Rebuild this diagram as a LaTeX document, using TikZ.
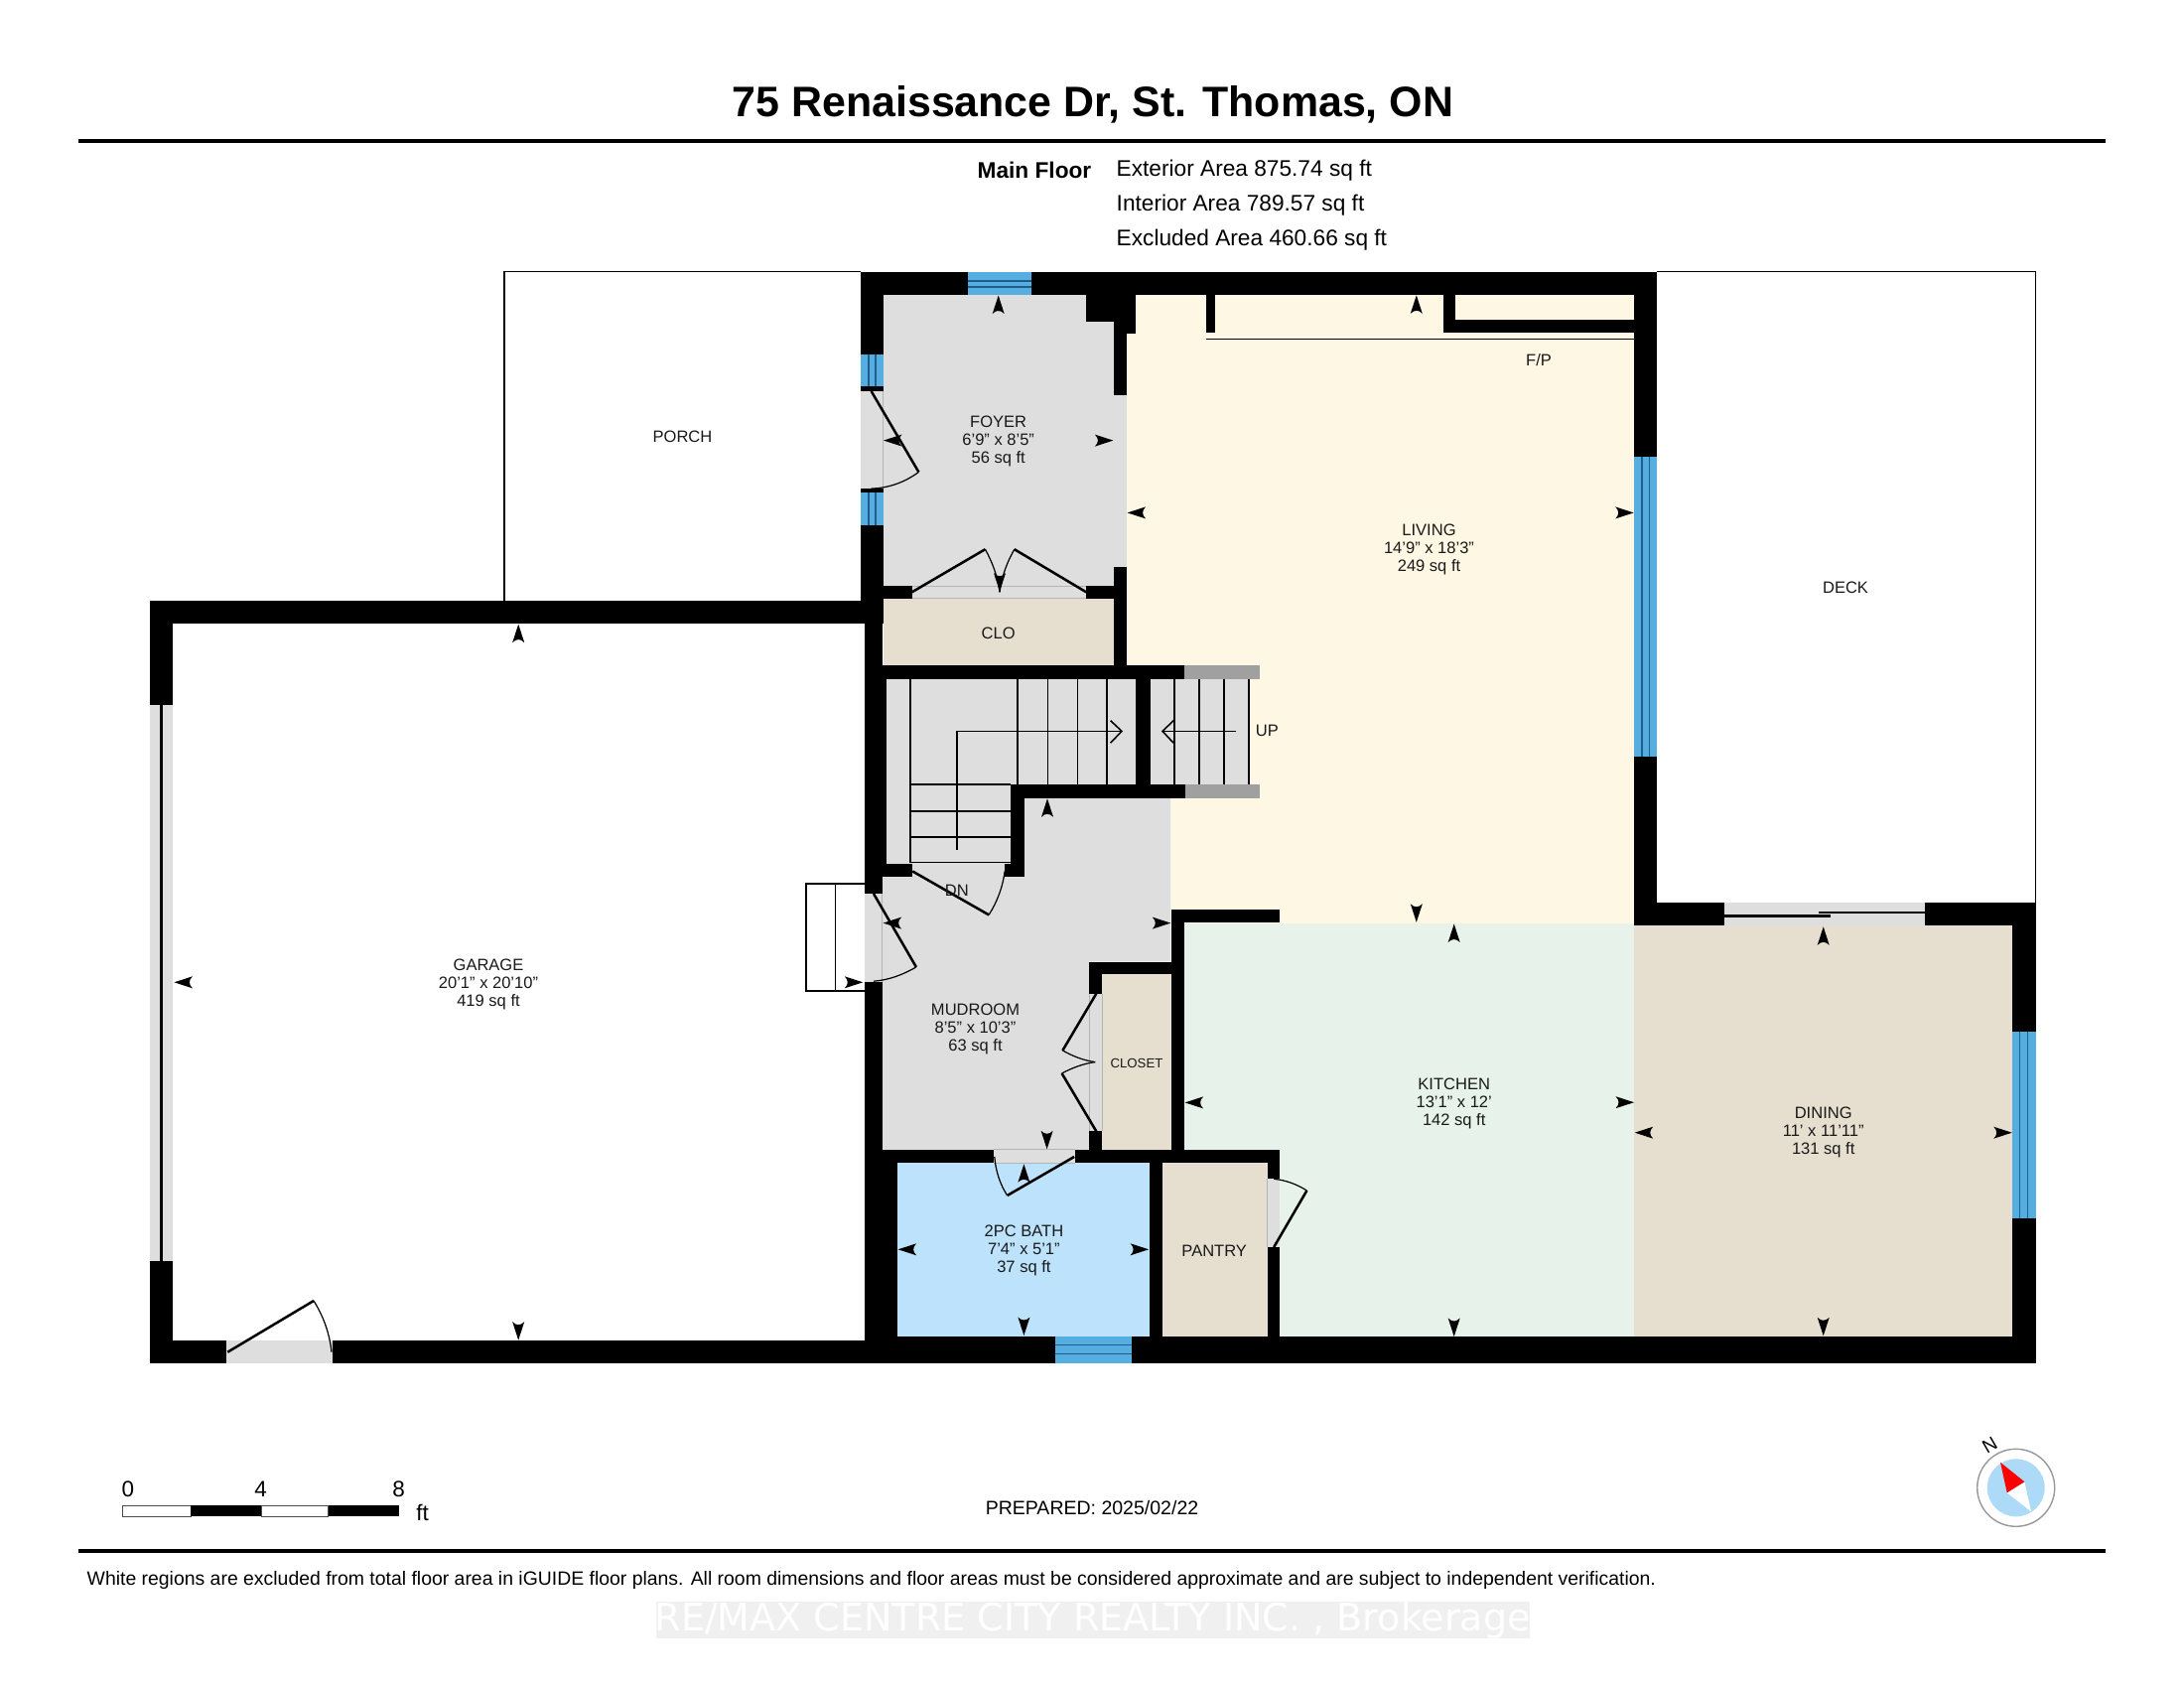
\documentclass[tikz,border=0pt]{standalone}
\usepackage{fontspec}
\setmainfont{Liberation Sans}
\newfontfamily\wmfont{DejaVu Sans}
\definecolor{cFoyer}{HTML}{DEDEDE}
\definecolor{cLiving}{HTML}{FDF7E3}
\definecolor{cKitchen}{HTML}{E6F2EA}
\definecolor{cBeige}{HTML}{E6DECE}
\definecolor{cBath}{HTML}{BDE2FB}
\definecolor{cWin}{HTML}{55ADE0}
\definecolor{cWinLine}{HTML}{1C5F8C}
\definecolor{cCap}{HTML}{A0A0A0}
\definecolor{cOpenLine}{HTML}{B4B4B4}
\tikzset{
  wall/.style={fill=black},
  openfill/.style={fill=cFoyer},
  winfill/.style={fill=cWin},
  winline/.style={draw=cWinLine,line width=0.4pt},
  leaf/.style={draw=black,line width=0.72pt},
  swing/.style={draw=black,line width=0.35pt},
  stairline/.style={draw=black,line width=0.45pt},
  outline/.style={draw=black,line width=0.42pt},
  room/.style={font=\fontsize{4.7}{5.12}\selectfont,align=center,inner sep=0pt,text=black!90,yshift=-0.45pt},
  label/.style={font=\fontsize{4.7}{5.12}\selectfont,inner sep=0pt,text=black!90,yshift=-0.35pt},
  info/.style={font=\fontsize{6.45}{7}\selectfont,inner sep=0pt,yshift=-0.4pt},
}
\newcommand\arrL[2]{\fill[shift={(#1,#2)}] (0,0) .. controls (9,-2.2) .. (18.5,-6) .. controls (14.5,-2) and (14.5,2) .. (18.5,6) .. controls (9,2.2) .. cycle;}
\newcommand\arrR[2]{\fill[shift={(#1,#2)}] (0,0) .. controls (-9,-2.2) .. (-18.5,-6) .. controls (-14.5,-2) and (-14.5,2) .. (-18.5,6) .. controls (-9,2.2) .. cycle;}
\newcommand\arrU[2]{\fill[shift={(#1,#2)}] (0,0) .. controls (-2.2,9) .. (-6,18.5) .. controls (-2,14.5) and (2,14.5) .. (6,18.5) .. controls (2.2,9) .. cycle;}
\newcommand\arrD[2]{\fill[shift={(#1,#2)}] (0,0) .. controls (-2.2,-9) .. (-6,-18.5) .. controls (-2,-14.5) and (2,-14.5) .. (6,-18.5) .. controls (2.2,-9) .. cycle;}
\begin{document}
\begin{tikzpicture}[x=0.01cm,y=-0.01cm]
\useasboundingbox (0,0) rectangle (2200,1700);
\fill[white] (0,0) rectangle (2200,1700);

% header
\node[font=\bfseries\fontsize{12.2}{14}\selectfont,inner sep=0pt] (title) at (1101,105.5) {75 Renaissance Dr, St. Thomas, ON};
\fill[black] (78.6,139.7) rectangle (2121,143.7);
\node[info,font=\bfseries\fontsize{6.45}{7}\selectfont,anchor=east] (mainfloor) at (1100,170) {Main Floor};
\node[info,anchor=west] (ext) at (1124,170) {Exterior Area 875.74 sq ft};
\node[info,anchor=west] (int) at (1124,205) {Interior Area 789.57 sq ft};
\node[info,anchor=west] (exc) at (1124,240.5) {Excluded Area 460.66 sq ft};

% outlines of exterior areas
\draw[outline] (508,605.4) -- (508,273.6) -- (867,273.6);
\draw[outline] (1669,273.6) -- (2050.7,273.6) -- (2050.7,909.3);
\draw[outline] (871,890) -- (812.1,890) -- (812.1,997.9) -- (871,997.9);
\draw[outline] (841.4,890) -- (841.4,997.9);

% room fills
\fill[cLiving] (1143.5,297) -- (1646.4,297) -- (1646.4,930) -- (1180,930) -- (1180,800) -- (1134.7,800) -- (1134.7,336) -- (1143.5,336) -- cycle;
\fill[cKitchen] (1192.9,930) rectangle (1646.4,1346);
\fill[cBeige] (1646.4,932.3) rectangle (2027.3,1346);
\fill[cFoyer] (889.6,297) rectangle (1121.9,590);
\fill[cBeige] (889.6,602.9) rectangle (1121.9,670.4);
\fill[cFoyer] (888.9,882.9) -- (1031.8,882.9) -- (1031.8,803.6) -- (1179.3,803.6) -- (1179.3,968.6) -- (1097.1,968.6) -- (1097.1,1157.9) -- (888.9,1157.9) -- cycle;
\fill[cBeige] (1110.4,981.4) rectangle (1180,1157.9);
\fill[cBath] (903.9,1171) rectangle (1158.2,1346);
\fill[cBeige] (1171.1,1171) rectangle (1276.8,1346);
% stair fills
\fill[cFoyer] (892.5,683.6) -- (1144.3,683.6) -- (1144.3,790) -- (1017.9,790) -- (1017.9,870.4) -- (892.5,870.4) -- cycle;
\fill[cFoyer] (1158.6,683.6) rectangle (1257.9,790);
\fill[cCap] (1192.5,670.4) rectangle (1268.6,683.6);
\fill[cCap] (1193.6,790) rectangle (1268.6,803.6);

% walls
\fill[wall] (867,274) rectangle (1668.9,297);
\fill[wall] (867,274) rectangle (889.6,628);
\fill[wall] (151,605.4) rectangle (889.6,627.9);
\fill[wall] (871.2,605.4) rectangle (888.9,1373.3);
\fill[wall] (871.2,670) rectangle (892.5,882.9);
\fill[wall] (871.2,1158) rectangle (903.9,1373.3);
\fill[wall] (151,1350.3) rectangle (903.9,1373.3);
\fill[wall] (871,1346) rectangle (2050.7,1373.3);
\fill[wall] (151,605.4) rectangle (174,1373.3);
\fill[wall] (1093.9,297) rectangle (1143.5,324.3);
\fill[wall] (1121.9,297) rectangle (1143.5,336);
\fill[wall] (1121.9,297) rectangle (1134.7,670);
\fill[wall] (889.6,590) rectangle (918.5,602.9);
\fill[wall] (1094.3,590) rectangle (1121.9,602.9);
\fill[wall] (871.2,670.4) rectangle (1192.5,683.6);
\fill[wall] (1144.3,683.6) rectangle (1158.6,790);
\fill[wall] (1017.9,790) rectangle (1193.6,803.6);
\fill[wall] (1017.9,790) rectangle (1031.8,882.9);
\fill[wall] (888,870.4) rectangle (919.3,882.9);
\fill[wall] (1012.1,870.4) rectangle (1031.8,882.9);
\fill[wall] (1180,916) rectangle (1289.3,928.6);
\fill[wall] (1180,916) rectangle (1192.9,1171);
\fill[wall] (1097.1,968.6) rectangle (1192.9,981.4);
\fill[wall] (1097.1,968.6) rectangle (1110.4,1000.7);
\fill[wall] (1097.1,1139.3) rectangle (1110.4,1157.9);
\fill[wall] (871,1157.9) rectangle (1001.4,1171);
\fill[wall] (1082.5,1157.9) rectangle (1289.3,1171);
\fill[wall] (1158.2,1158) rectangle (1171.1,1346);
\fill[wall] (1276.8,1158) rectangle (1289.3,1187.3);
\fill[wall] (1276.8,1256) rectangle (1289.3,1346);
\fill[wall] (1646.4,274) rectangle (1668.9,932.3);
\fill[wall] (1646.4,909.3) rectangle (2050.7,932.3);
\fill[wall] (2027.3,909.3) rectangle (2050.7,1373.3);
% fireplace
\fill[wall] (1215.4,297) rectangle (1223.9,335);
\fill[wall] (1453.6,297) rectangle (1466.4,335);
\fill[wall] (1453.6,322.3) rectangle (1646.4,335);
\draw[draw=black,line width=0.45pt] (1215.4,341.7) -- (1646.4,341.7);

% openings
\fill[openfill] (867,393.9) rectangle (889.6,492);
\draw[cOpenLine,line width=0.25pt] (889.6,393.9) -- (889.6,492);
\fill[openfill] (1121.9,397.9) rectangle (1134.7,570.7);
\fill[openfill] (918.5,590) rectangle (1094.3,602.9);
\draw[cOpenLine,line width=0.25pt] (918.5,590) -- (1094.3,590) (918.5,602.9) -- (1094.3,602.9);
\fill[openfill] (871.2,900) rectangle (888.9,989.3);
\draw[cOpenLine,line width=0.25pt] (888.9,900) -- (888.9,989.3);
\fill[openfill] (919.3,870.4) rectangle (1012.1,882.9);
\fill[openfill] (1097.1,1000.7) rectangle (1110.4,1139.3);
\draw[cOpenLine,line width=0.25pt] (1097.1,1000.7) -- (1097.1,1139.3) (1110.4,1000.7) -- (1110.4,1139.3);
\fill[openfill] (1001.4,1157.9) rectangle (1082.5,1171);
\draw[cOpenLine,line width=0.25pt] (1001.4,1157.9) -- (1082.5,1157.9) (1001.4,1171) -- (1082.5,1171);
\fill[openfill] (1276.8,1187.3) rectangle (1289.3,1256);
\draw[cOpenLine,line width=0.25pt] (1276.8,1187.3) -- (1276.8,1256);
\fill[openfill] (228.3,1350.3) rectangle (335,1373.3);
\fill[openfill] (151,710) rectangle (174,1269.7);
\fill[black] (160.5,710) rectangle (164.2,1269.7);
% sliding door
\fill[openfill] (1736.7,909.3) rectangle (1939,932.3);
\draw[draw=black,line width=0.7pt] (1736.7,922.3) -- (1844,922.3);
\draw[draw=black,line width=0.7pt] (1832,919) -- (1939,919);

% windows
\fill[winfill] (975.4,274) rectangle (1038.8,297);
\draw[winline] (975.4,282.9) -- (1038.8,282.9) (975.4,288.9) -- (1038.8,288.9);
\fill[winfill] (867,357.1) rectangle (889.6,389.3);
\draw[winline] (875,357.1) -- (875,389.3) (882,357.1) -- (882,389.3);
\fill[winfill] (867,496.4) rectangle (889.6,528.6);
\draw[winline] (875,496.4) -- (875,528.6) (882,496.4) -- (882,528.6);
\fill[winfill] (1646.4,460.2) rectangle (1668.9,761.8);
\draw[winline] (1653.9,460.2) -- (1653.9,761.8) (1661.4,460.2) -- (1661.4,761.8);
\fill[winfill] (2027.3,1039.3) rectangle (2050.7,1227.3);
\draw[winline] (2034.7,1039.3) -- (2034.7,1227.3) (2042.3,1039.3) -- (2042.3,1227.3);
\fill[winfill] (1062.5,1346) rectangle (1140.4,1373.3);
\draw[winline] (1062.5,1354.7) -- (1140.4,1354.7) (1062.5,1363.7) -- (1140.4,1363.7);

% stairs
\draw[stairline] (917.1,683.6) -- (917.1,868.6);
\draw[stairline] (1025,683.6) -- (1025,790) (1055.4,683.6) -- (1055.4,790) (1085.4,683.6) -- (1085.4,790) (1115,683.6) -- (1115,790);
\draw[stairline] (917.1,790) -- (1017.9,790) (917.1,816.8) -- (1017.9,816.8) (917.1,843.2) -- (1017.9,843.2) (917.1,868.6) -- (1017.9,868.6);
\draw[stairline] (963.9,856) -- (963.9,736.4) -- (1130,736.4);
\draw[stairline] (1118.6,725.7) -- (1130,736.4) -- (1118.6,748.2);
\draw[stairline] (1183.2,683.6) -- (1183.2,790) (1207.9,683.6) -- (1207.9,790) (1232.9,683.6) -- (1232.9,790) (1257.9,683.6) -- (1257.9,790);
\draw[stairline] (1245.4,736.4) -- (1171,736.4);
\draw[stairline] (1182.1,725.7) -- (1171,736.4) -- (1182.1,748.2);

% doors
\draw[leaf] (877.6,393.9) -- (925.4,475.4);
\draw[swing] (925.4,475.4) .. controls (911,486) and (895,491.5) .. (877.6,492.1);
\draw[leaf] (918.5,596.4) -- (992.4,553.2);
\draw[swing] (992.4,553.2) .. controls (999,565) and (1005,580) .. (1007,596.4);
\draw[leaf] (1094.3,596.4) -- (1021.8,553.2);
\draw[swing] (1021.8,553.2) .. controls (1015,565) and (1009,580) .. (1007,596.4);
\draw[leaf] (880,900) -- (922.9,973.9);
\draw[swing] (922.9,973.9) .. controls (909,982) and (895,987) .. (880,988.2);
\draw[leaf] (919.3,877.5) -- (996.1,921.4);
\draw[swing] (996.1,921.4) .. controls (1004,909) and (1010,894) .. (1012.1,877.5);
\draw[leaf] (1104.3,1000.7) -- (1070.4,1057.9);
\draw[swing] (1070.4,1057.9) .. controls (1081,1064) and (1092,1068) .. (1103.2,1069.6);
\draw[leaf] (1104.3,1139.3) -- (1069.6,1081);
\draw[swing] (1069.6,1081) .. controls (1081,1075) and (1092,1071) .. (1103.2,1069.6);
\draw[leaf] (1082.1,1165) -- (1014.6,1204);
\draw[swing] (1014.6,1204) .. controls (1007,1192) and (1003,1179) .. (1001.8,1165);
\draw[leaf] (1283.2,1256) -- (1316.4,1199);
\draw[swing] (1316.4,1199) .. controls (1306,1192.5) and (1295,1188.5) .. (1283.2,1187.3);
\draw[leaf] (229.3,1361.7) -- (316,1310);
\draw[swing] (316,1310) .. controls (326,1326) and (332,1343) .. (334,1361.7);

% measure arrows
\arrU{1005.7}{297.5} \arrL{890}{443.6} \arrR{1121.4}{443.6} \arrD{1007}{595.7}
\arrL{1135.6}{516.4} \arrR{1645.7}{516.4} \arrU{1426.8}{297.3} \arrD{1426.8}{928.8}
\arrU{522.2}{628.6} \arrD{522.2}{1349.7} \arrL{175.4}{989.3} \arrR{869.3}{989.3}
\arrU{1055}{804.3} \arrD{1054.6}{1157.3} \arrL{889.6}{929.6} \arrR{1179.3}{929.6}
\arrU{1031.4}{1172.3} \arrD{1031.4}{1345} \arrL{904.6}{1258.3} \arrR{1157.1}{1258.3}
\arrU{1464.7}{930.5} \arrD{1464.7}{1346} \arrL{1193.6}{1110.4} \arrR{1646}{1110.2}
\arrU{1836.7}{933.3} \arrD{1836.7}{1345.3} \arrL{1646.7}{1140.7} \arrR{2026.7}{1140.7}

% labels
\node[label] (porch) at (687.5,439) {PORCH};
\node[label] (deck) at (1859,590.7) {DECK};
\node[label] (clo) at (1005.7,636.4) {CLO};
\node[label] (fp) at (1550,361.7) {F/P};
\node[label] (up) at (1276.4,734.6) {UP};
\node[label] (dn) at (963.9,895.7) {DN};
\node[label,font=\fontsize{3.75}{5}\selectfont] (closet) at (1145,1069.6) {CLOSET};
\node[label] (pantry) at (1223.2,1258.3) {PANTRY};
\node[room] (foyer) at (1005.7,443.2) {FOYER\\6'9" x 8'5"\\56 sq ft};
\node[room] (living) at (1439.5,551.4) {LIVING\\14'9" x 18'3"\\249 sq ft};
\node[room] (garage) at (492,990) {GARAGE\\20'1" x 20'10"\\419 sq ft};
\node[room] (mud) at (982.5,1034.6) {MUDROOM\\8'5" x 10'3"\\63 sq ft};
\node[room] (bath) at (1031.4,1258.3) {2PC BATH\\7'4" x 5'1"\\37 sq ft};
\node[room] (kitchen) at (1464.7,1110) {KITCHEN\\13'1" x 12'\\142 sq ft};
\node[room] (dining) at (1836.7,1138.7) {DINING\\11' x 11'11"\\131 sq ft};

% scale bar
\draw[draw=black!70,fill=white,line width=0.25pt] (123.5,1516) rectangle (192,1527);
\fill[black] (192,1515.7) rectangle (263.3,1527.3);
\draw[draw=black!70,fill=white,line width=0.25pt] (263.3,1516) rectangle (330.7,1527);
\fill[black] (330.7,1515.7) rectangle (402,1527.3);
\node[info,font=\fontsize{6.4}{8}\selectfont] (s0) at (129,1498.3) {0};
\node[info,font=\fontsize{6.4}{8}\selectfont] (s4) at (262.7,1498.3) {4};
\node[info,font=\fontsize{6.4}{8}\selectfont] (s8) at (401.7,1498.3) {8};
\node[info,font=\fontsize{6.4}{8}\selectfont] (sft) at (425.7,1521.7) {ft};

\node[info,font=\fontsize{5.55}{7}\selectfont] (prep) at (1100,1516.6) {PREPARED: 2025/02/22};

% compass
\draw[draw=black!40,fill=white,line width=0.4pt] (2030.7,1498.3) circle (39);
\fill[fill=cBath!85!cWin] (2030.7,1498.3) circle (29);
\fill[white] (2039.3,1492.3) -- (2021.7,1503.3) -- (2046,1522.3) -- cycle;
\fill[red] (2015,1472.7) -- (2039.3,1492.3) -- (2021.7,1503.3) -- cycle;
\node[inner sep=0pt,font=\fontsize{5.4}{6}\selectfont,rotate=30] (north) at (2004.3,1455.7) {N};

% footer
\fill[black] (78.6,1559.6) rectangle (2121,1563.6);
\node[info,font=\fontsize{5.52}{7}\selectfont,anchor=west] (note) at (87,1589.6) {White regions are excluded from total floor area in iGUIDE floor plans. All room dimensions and floor areas must be considered approximate and are subject to independent verification.};
\fill[black!6] (660.6,1613.3) rectangle (1540.7,1650);
\node[inner sep=0pt,text=white,font=\wmfont\fontsize{10.82}{12}\selectfont] (mark) at (1100.6,1632) {RE/MAX CENTRE CITY REALTY INC. , Brokerage};
\end{tikzpicture}
\end{document}
